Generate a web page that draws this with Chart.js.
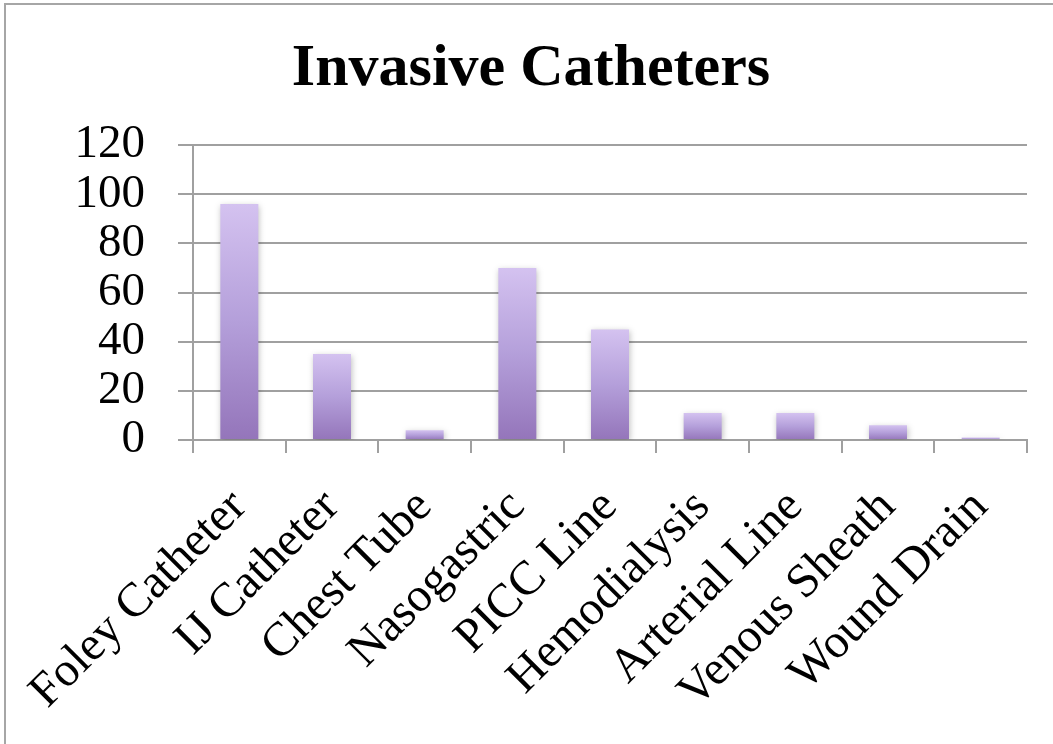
<!DOCTYPE html>
<html>
<head>
<meta charset="utf-8">
<script src="https://cdn.jsdelivr.net/npm/chart.js@4/dist/chart.umd.min.js"></script>
<style>
html,body{margin:0;padding:0;background:#fff;}
#wrap{width:1053px;height:744px;position:relative;}
</style>
</head>
<body>
<div id="wrap"><canvas id="c" width="1053" height="744"></canvas></div>
<script>
const categories = ["Foley Catheter","IJ Catheter","Chest Tube","Nasogastric","PICC Line","Hemodialysis","Arterial Line","Venous Sheath","Wound Drain"];
const counts = [96, 35, 4, 70, 45, 11, 11, 6, 1];
const yTicks = [0, 20, 40, 60, 80, 100, 120];
const chartTitle = "Invasive Catheters";

const FONT = "'Liberation Serif', 'DejaVu Serif', serif";

function barGradient(ctx) {
  const chart = ctx.chart;
  const ys = chart.scales && chart.scales.y;
  if (!ys || ctx.raw === undefined) return '#a88fd0';
  const top = ys.getPixelForValue(ctx.raw);
  const bottom = ys.getPixelForValue(0);
  if (!isFinite(top) || !isFinite(bottom) || Math.abs(bottom - top) < 0.5) return '#a88fd0';
  const g = chart.ctx.createLinearGradient(0, top, 0, bottom);
  g.addColorStop(0, '#d4c2f0');
  g.addColorStop(0.5, '#b49fda');
  g.addColorStop(1, '#9475ba');
  return g;
}

const borderPlugin = {
  id: 'outerBorder',
  beforeDraw(chart) {
    const c = chart.ctx;
    c.save();
    c.fillStyle = '#fff';
    c.fillRect(0, 0, chart.width, chart.height);
    c.strokeStyle = '#a6a6a6';
    c.lineWidth = 2;
    c.beginPath();
    c.moveTo(5, chart.height + 5);
    c.lineTo(5, 4);
    c.lineTo(chart.width + 5, 4);
    c.stroke();
    c.restore();
  }
};

const titlePlugin = {
  id: 'manualTitle',
  afterDraw(chart) {
    const c = chart.ctx;
    c.save();
    c.fillStyle = '#000';
    c.font = "bold 60px " + FONT;
    c.textAlign = 'center';
    c.textBaseline = 'alphabetic';
    c.fillText(chartTitle, 531, 85);
    c.restore();
  }
};

const shadowPlugin = {
  id: 'barShadow',
  beforeDatasetsDraw(chart) {
    chart.ctx.save();
    chart.ctx.shadowColor = 'rgba(0,0,0,0.25)';
    chart.ctx.shadowBlur = 6;
    chart.ctx.shadowOffsetX = 1;
    chart.ctx.shadowOffsetY = 2;
  },
  afterDatasetsDraw(chart) {
    chart.ctx.restore();
  }
};

new Chart(document.getElementById('c'), {
  type: 'bar',
  data: {
    labels: categories,
    datasets: [{
      data: counts,
      backgroundColor: barGradient,
      borderWidth: 0,
      barPercentage: 0.41,
      categoryPercentage: 1.0
    }]
  },
  options: {
    responsive: false,
    animation: false,
    devicePixelRatio: 1,
    layout: { padding: { left: 0, right: 26, top: 145, bottom: 0 } },
    plugins: {
      legend: { display: false },
      tooltip: { enabled: false },
      title: { display: false }
    },
    scales: {
      y: {
        min: 0, max: 120,
        afterBuildTicks(scale) { scale.ticks = yTicks.map(v => ({ value: v })); },
        afterFit(scale) { scale.width = 193; },
        ticks: {
          color: '#000',
          font: { family: FONT, size: 47 },
          padding: 33,
          autoSkip: false
        },
        grid: {
          color: '#a0a0a0',
          lineWidth: 2,
          drawTicks: true,
          tickLength: 15
        },
        border: { display: true, color: '#a0a0a0', width: 2 }
      },
      x: {
        afterFit(scale) { scale.height = 304; },
        ticks: {
          color: '#000',
          font: { family: FONT, size: 48 },
          minRotation: 45,
          maxRotation: 45,
          padding: 26,
          autoSkip: false
        },
        grid: {
          offset: true,
          drawOnChartArea: false,
          drawTicks: true,
          tickLength: 13,
          color: '#a0a0a0',
          lineWidth: 2
        },
        border: { display: true, color: '#a0a0a0', width: 2 }
      }
    }
  },
  plugins: [borderPlugin, shadowPlugin, titlePlugin]
});
</script>
</body>
</html>
